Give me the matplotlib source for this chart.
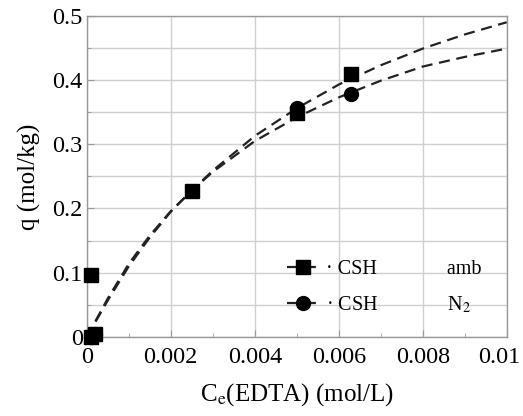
import matplotlib
matplotlib.use("Agg")
import matplotlib.pyplot as plt
import matplotlib.transforms as mtransforms
from matplotlib.ticker import MultipleLocator, FixedLocator

plt.rcParams['font.family'] = ['Liberation Serif', 'DejaVu Serif']
plt.rcParams['mathtext.fontset'] = 'stix'

# Measured points
amb_x = [0.0001, 0.0002, 0.0001, 0.0025, 0.0050, 0.0063]
amb_y = [0.000, 0.005, 0.096, 0.228, 0.349, 0.410]
n2_x = [0.0001, 0.0002, 0.0050, 0.0063]
n2_y = [0.000, 0.004, 0.357, 0.379]

# Fitted curves
curve_x = [0.0, 0.0005, 0.001, 0.0015, 0.002, 0.0025, 0.003, 0.004, 0.005,
           0.006, 0.007, 0.008, 0.009, 0.010]
amb_fit = [0.0, 0.057, 0.110, 0.155, 0.195, 0.228, 0.259, 0.313, 0.356,
           0.393, 0.423, 0.449, 0.471, 0.490]
n2_fit = [0.0, 0.060, 0.114, 0.158, 0.196, 0.228, 0.257, 0.305, 0.342,
          0.373, 0.399, 0.421, 0.436, 0.449]

xticks = [0, 0.002, 0.004, 0.006, 0.008, 0.010]
xticklabels = ['0', '0.002', '0.004', '0.006', '0.008', '0.01']
yticks = [0, 0.1, 0.2, 0.3, 0.4, 0.5]
yticklabels = ['0', '0.1', '0.2', '0.3', '0.4', '0.5']

fig = plt.figure(figsize=(5.23, 4.16), dpi=100)
ax = fig.add_axes([0.166, 0.19, 0.803, 0.772])

dash = (0, (5, 3))
ax.plot(curve_x, amb_fit, color='#222222', lw=1.6, linestyle=dash)
ax.plot(curve_x, n2_fit, color='#222222', lw=1.6, linestyle=dash)
ax.plot(amb_x, amb_y, 's', color='black', ms=10, clip_on=False, zorder=5)
ax.plot(n2_x, n2_y, 'o', color='black', ms=10, clip_on=False, zorder=5)

# legend handles
h1, = ax.plot([], [], color='#222222', lw=1.6, linestyle=dash, marker='s', ms=10, mfc='black', mec='black')
h2, = ax.plot([], [], color='#222222', lw=1.6, linestyle=dash, marker='o', ms=10, mfc='black', mec='black')
leg = ax.legend([h1, h2], ['· CSH              amb', '· CSH              N$_2$'],
                loc='lower right', bbox_to_anchor=(0.982, 0.012), frameon=False,
                fontsize=14.5, handlelength=1.6, handletextpad=0.3, labelspacing=0.75)

ax.set_xlim(0, 0.01)
ax.set_ylim(0, 0.5)
ax.xaxis.set_major_locator(FixedLocator(xticks))
ax.set_xticklabels(xticklabels)
ax.yaxis.set_major_locator(FixedLocator(yticks))
ax.set_yticklabels(yticklabels)
ax.xaxis.set_minor_locator(MultipleLocator(0.001))
ax.yaxis.set_minor_locator(MultipleLocator(0.05))
ax.grid(True, which='major', color='#d0d0d0', lw=1.0)
ax.grid(True, which='minor', axis='y', color='#d0d0d0', lw=1.0)
ax.set_axisbelow(True)
ax.tick_params(which='both', direction='in', labelsize=17.5, color='#999999')
ax.tick_params(which='major', length=5)
ax.tick_params(which='minor', length=3)
ax.tick_params(axis='x', pad=7)
ax.tick_params(axis='y', pad=3)
for s in ax.spines.values():
    s.set_color('#999999')
    s.set_linewidth(1.0)

# keep the last x tick label inside the figure
last = ax.get_xticklabels()[-1]
last.set_transform(last.get_transform() + mtransforms.ScaledTranslation(-8 / 100, 0, fig.dpi_scale_trans))

ax.set_xlabel('C$_\\mathrm{e}$(EDTA) (mol/L)', fontsize=18, labelpad=10)
ax.set_ylabel('q (mol/kg)', fontsize=18, labelpad=8)

fig.savefig('out.png', dpi=100)
